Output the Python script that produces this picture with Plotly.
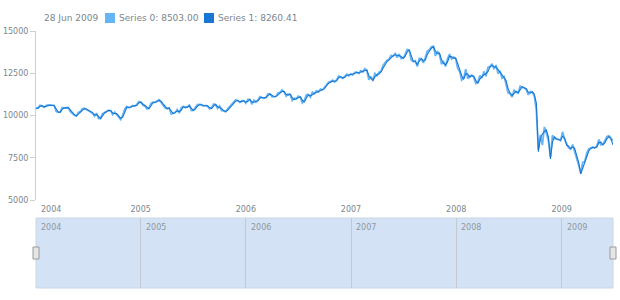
import pandas as pd
import plotly.graph_objects as go

# ---- data (weekly, Sundays from 2004-01-04 to 2009-06-28) ----
series0 = [
    # 2004
    10409, 10458, 10600, 10568, 10488, 10593, 10628, 10620, 10584, 10596, 10240, 10186, 10213,
    10470, 10443, 10452, 10473, 10226, 10118, 10013, 9966, 10188, 10242, 10410, 10416, 10371,
    10282, 10214, 10139, 9962, 10139, 9815, 9825, 10110, 10195, 10260, 10313, 10284, 10047,
    10192, 10055, 9933, 9757, 10027, 10387, 10539, 10456, 10522, 10592, 10543, 10649, 10828,
    # 2005
    10783, 10603, 10558, 10393, 10427, 10716, 10796, 10785, 10841, 10941, 10774, 10629, 10442,
    10404, 10461, 10088, 10157, 10192, 10345, 10140, 10471, 10542, 10460, 10513, 10623, 10297,
    10303, 10449, 10640, 10651, 10641, 10559, 10600, 10559, 10397, 10447, 10679, 10641, 10419,
    10569, 10292, 10287, 10215, 10403, 10531, 10686, 10766, 10931, 10877, 10778, 10875, 10883,
    # 2006
    10718, 10959, 10960, 10667, 10907, 10793, 10919, 11115, 11061, 11022, 11076, 11279, 11280,
    11109, 11120, 11137, 11347, 11367, 11520, 11380, 11144, 11278, 11247, 10891, 11015, 10989,
    11150, 11091, 10739, 10868, 11219, 11240, 11088, 11381, 11284, 11464, 11393, 11560, 11508,
    11679, 11850, 11960, 12002, 12090, 11986, 12108, 12342, 12280, 12194, 12307, 12445, 12343,
    # 2007
    12463, 12398, 12556, 12565, 12487, 12653, 12580, 12768, 12647, 12114, 12277, 12110, 12481,
    12354, 12561, 12612, 12962, 13121, 13265, 13327, 13556, 13507, 13668, 13424, 13639, 13361,
    13409, 13612, 13908, 13851, 13266, 13182, 13240, 12900, 13379, 13358, 13113, 13443, 13820,
    13896, 14066, 14093, 13522, 13807, 13595, 13043, 13177, 12900, 13372, 13626, 13340, 13450,
    # 2008
    13366, 12800, 12606, 12099, 12207, 12743, 12182, 12348, 12381, 12266, 11894, 11951, 12361,
    12216, 12609, 12325, 12849, 12891, 13058, 12745, 12986, 12480, 12638, 12210, 12307, 11843,
    11346, 11289, 11100, 11496, 11370, 11326, 11734, 11659, 11628, 11543, 11220, 11421, 11388,
    11143, 10325, 8000, 8852, 8250, 9325, 8943, 8497, 7550, 8829, 8635, 8629, 8579,
    # 2009
    8515, 9034, 8599, 8281, 8077, 8001, 8280, 7850, 7366, 7063, 6600, 7224, 7279,
    7776, 8018, 8083, 8131, 8076, 8212, 8575, 8268, 8277, 8500, 8764, 8799, 8620, 8503.00,
]

series1 = [
    # 2004
    10420, 10430, 10540, 10580, 10510, 10550, 10600, 10610, 10590, 10580, 10390, 10210, 10190,
    10360, 10450, 10440, 10460, 10330, 10160, 10050, 9980, 10090, 10210, 10340, 10410, 10390,
    10320, 10240, 10170, 10040, 10060, 9950, 9810, 9980, 10150, 10220, 10290, 10290, 10150,
    10120, 10110, 9980, 9830, 9900, 10220, 10470, 10490, 10490, 10560, 10560, 10600, 10740,
    # 2005
    10790, 10680, 10570, 10460, 10400, 10580, 10760, 10780, 10810, 10890, 10850, 10690, 10520,
    10410, 10430, 10250, 10110, 10170, 10270, 10230, 10320, 10500, 10490, 10480, 10570, 10450,
    10290, 10380, 10550, 10640, 10640, 10590, 10580, 10570, 10470, 10410, 10560, 10660, 10520,
    10490, 10420, 10280, 10240, 10310, 10470, 10610, 10720, 10850, 10900, 10820, 10820, 10870,
    # 2006
    10790, 10840, 10950, 10800, 10790, 10840, 10860, 11020, 11080, 11040, 11050, 11180, 11270,
    11190, 11110, 11120, 11240, 11350, 11430, 11420, 11250, 11200, 11260, 11060, 10940, 10990,
    11070, 11110, 10900, 10800, 11040, 11220, 11160, 11240, 11320, 11370, 11420, 11480, 11530,
    11590, 11760, 11900, 11970, 12040, 12030, 12050, 12220, 12300, 12230, 12250, 12370, 12390,
    # 2007
    12410, 12420, 12480, 12560, 12520, 12570, 12610, 12680, 12700, 12350, 12190, 12060, 12300,
    12410, 12460, 12580, 12790, 13040, 13190, 13290, 13440, 13530, 13590, 13540, 13530, 13490,
    13380, 13510, 13760, 13880, 13560, 13220, 13200, 13000, 13220, 13360, 13230, 13280, 13630,
    13850, 13980, 14070, 13800, 13660, 13700, 13310, 13110, 13000, 13170, 13500, 13480, 13390,
    # 2008
    13400, 13080, 12700, 12350, 12150, 12470, 12460, 12260, 12360, 12320, 12080, 11920, 12150,
    12290, 12410, 12470, 12590, 12870, 12970, 12900, 12860, 12730, 12560, 12420, 12260, 12070,
    11590, 11320, 11190, 11300, 11430, 11350, 11530, 11700, 11640, 11590, 11380, 11320, 11400,
    11260, 10730, 7860, 8650, 8900, 9040, 9140, 8720, 7430, 8440, 8730, 8630, 8600,
    # 2009
    8540, 8770, 8670, 8250, 8180, 8040, 8140, 8060, 7600, 7210, 6540, 6900, 7250,
    7530, 7900, 8050, 8100, 8100, 8140, 8390, 8420, 8270, 8390, 8630, 8750, 8600, 8260.41,
]

series_names = ["Series 0", "Series 1"]
series_colors = ["#64b5f6", "#1976d2"]
y_ticks = [5000, 7500, 10000, 12500, 15000]
year_labels = ["2004", "2005", "2006", "2007", "2008", "2009"]

dates = pd.date_range(end="2009-06-28", periods=len(series0), freq="7D")
year_starts = pd.to_datetime([f"{y}-01-01" for y in year_labels])

FONT = "DejaVu Sans"
GREY = "#7c868e"
W, H = 620, 300
x0px, x1px = 36, 613
main_top, main_bot = 31, 200
scr_top, scr_bot = 218, 288

fig = go.Figure()
for name, vals, col, lw in zip(series_names, [series0, series1], series_colors, [1.8, 1.1]):
    fig.add_trace(go.Scatter(x=dates, y=vals, mode="lines", name=name,
                             line=dict(color=col, width=lw), xaxis="x", yaxis="y",
                             hoverinfo="skip"))

# invisible trace on the scroller axes so they render
fig.add_trace(go.Scatter(x=[dates[0], dates[-1]], y=[0, 1], mode="lines",
                         line=dict(width=0, color="rgba(0,0,0,0)"),
                         xaxis="x2", yaxis="y2", hoverinfo="skip", showlegend=False))

xr = [dates[0], dates[-1]]
fig.update_layout(
    width=W, height=H, autosize=False,
    margin=dict(l=0, r=0, t=0, b=0, pad=0),
    paper_bgcolor="white", plot_bgcolor="rgba(0,0,0,0)",
    showlegend=False,
    font=dict(family=FONT, color=GREY, size=8),
    xaxis=dict(domain=[x0px / W, x1px / W], anchor="y", type="date", range=xr,
               tickvals=year_starts[1:], ticktext=year_labels[1:], automargin=False,
               showgrid=False, zeroline=False, showline=False, ticks="",
               ticklabelstandoff=3,
               tickfont=dict(size=8, color=GREY, family=FONT)),
    yaxis=dict(domain=[1 - main_bot / H, 1 - main_top / H], anchor="x",
               range=[5000, 15000], tickvals=y_ticks, ticktext=[str(v) for v in y_ticks],
               automargin=False,
               showgrid=False, zeroline=False, showline=True, linecolor="#cfcfcf",
               linewidth=1, ticks="outside", ticklen=5, tickcolor="#cfcfcf",
               tickfont=dict(size=8, color=GREY, family=FONT)),
    xaxis2=dict(domain=[x0px / W, x1px / W], anchor="y2", type="date", range=xr,
                tickvals=year_starts, showticklabels=False, automargin=False,
                showgrid=True, gridcolor="#c3c9cf", gridwidth=1,
                zeroline=False, showline=False, ticks=""),
    yaxis2=dict(domain=[1 - scr_bot / H, 1 - scr_top / H], anchor="x2", automargin=False,
                range=[0, 1], showgrid=False, zeroline=False, showticklabels=False,
                showline=False, ticks=""),
)

shapes = [
    dict(type="rect", xref="x2 domain", yref="y2 domain", x0=0, x1=1, y0=0, y1=1,
         fillcolor="#d3e3f5", line=dict(color="#c9d7e6", width=1), layer="below"),
]
# scroller handles
for xd in (0, 1):
    shapes.append(dict(type="rect", xref="x2 domain", yref="y2 domain",
                       xsizemode="pixel", ysizemode="pixel", xanchor=xd, yanchor=0.5,
                       x0=-3, x1=3, y0=-6, y1=6,
                       fillcolor="#e6e6e6", line=dict(color="#9a9a9a", width=1)))

annotations = []
# scroller year labels
for lab, d in zip(year_labels, year_starts):
    xv = max(d, dates[0])
    annotations.append(dict(text=lab, x=xv, y=1, xref="x2", yref="y2 domain",
                            xanchor="left", yanchor="top", xshift=3, yshift=-3,
                            showarrow=False, font=dict(size=8, color="#8f979e", family=FONT)))
# first main axis label (2004) placed at start of range
annotations.append(dict(text=year_labels[0], x=dates[0], y=0, xref="x", yref="y domain",
                        xanchor="left", yanchor="top", xshift=3, yshift=-3,
                        showarrow=False, font=dict(size=8, color=GREY, family=FONT)))

# legend-like header
last_date = dates[-1]
header_y = 1 - 18 / H
annotations.append(dict(text=last_date.strftime("%d %b %Y"), x=42 / W, y=header_y,
                        xref="paper", yref="paper", xanchor="left", yanchor="middle",
                        showarrow=False, font=dict(size=9, color=GREY, family=FONT)))
legend_x = [105, 204]
for i, (name, vals, col) in enumerate(zip(series_names, [series0, series1], series_colors)):
    lx = legend_x[i]
    shapes.append(dict(type="rect", xref="paper", yref="paper",
                       x0=lx / W, x1=(lx + 10) / W,
                       y0=1 - 23 / H, y1=1 - 13 / H,
                       fillcolor=col, line=dict(width=0)))
    annotations.append(dict(text=f"{name}: {vals[-1]:.2f}", x=(lx + 12) / W, y=header_y,
                            xref="paper", yref="paper", xanchor="left", yanchor="middle",
                            showarrow=False, font=dict(size=9, color=GREY, family=FONT)))

fig.update_layout(shapes=shapes, annotations=annotations)
fig.write_html("out.html")
